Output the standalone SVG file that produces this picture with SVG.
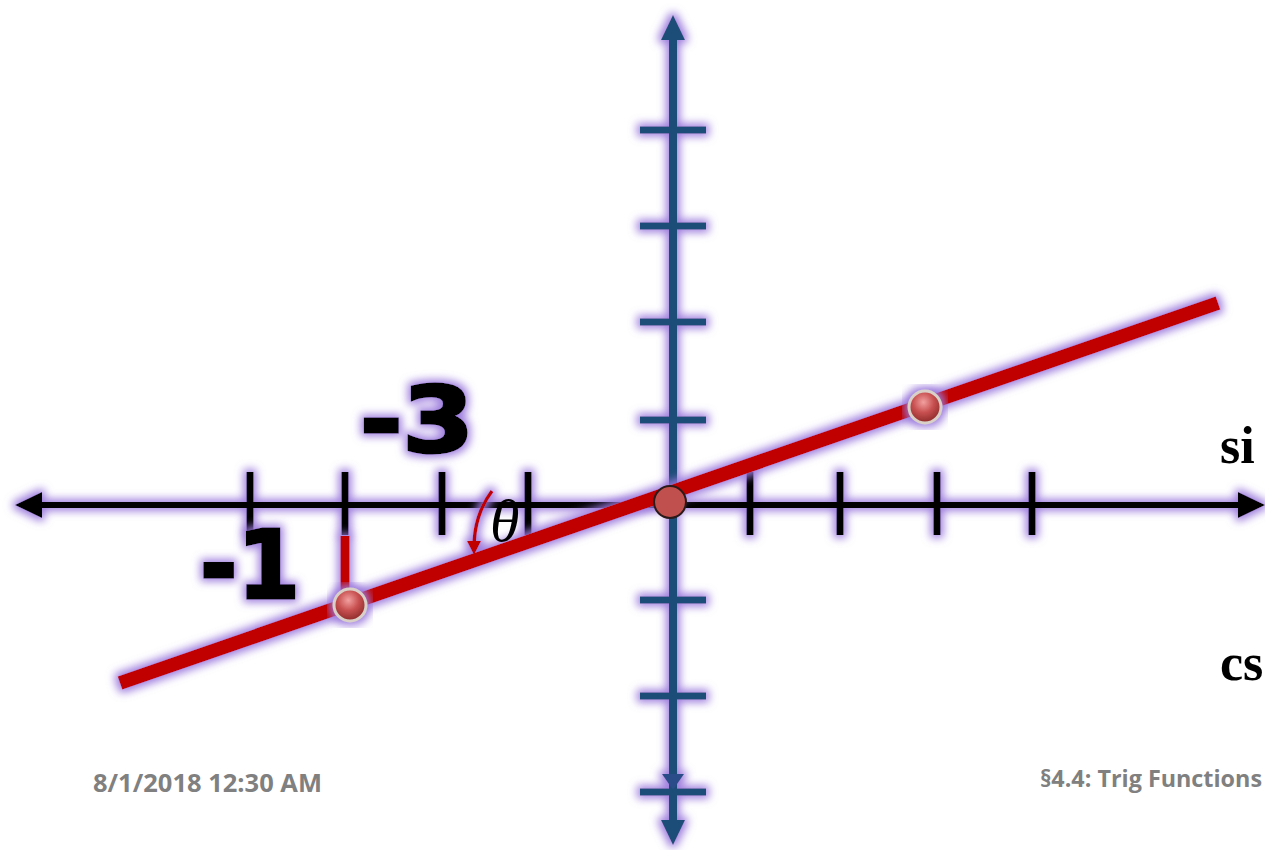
<svg xmlns="http://www.w3.org/2000/svg" width="1265" height="850" viewBox="0 0 1265 850">
<defs>
<filter id="glow" x="-20%" y="-20%" width="140%" height="140%">
<feMorphology in="SourceAlpha" operator="dilate" radius="3" result="d"/>
<feGaussianBlur in="d" stdDeviation="4.5" result="b"/>
<feFlood flood-color="#9a78dc" flood-opacity="0.95"/>
<feComposite in2="b" operator="in" result="g"/>
<feMerge><feMergeNode in="g"/><feMergeNode in="SourceGraphic"/></feMerge>
</filter>
<radialGradient id="ball" cx="45%" cy="35%" r="65%">
<stop offset="0" stop-color="#f2a0a0"/>
<stop offset="0.5" stop-color="#c85050"/>
<stop offset="1" stop-color="#8c2a2a"/>
</radialGradient>
<marker id="redArrow" viewBox="0 0 10 10" refX="5" refY="5" markerWidth="4" markerHeight="4" orient="auto">
<path d="M0,0 L10,5 L0,10 z" fill="#c00000"/>
</marker>
</defs>
<style>
.xax{stroke:#000;stroke-width:6;fill:none}
.xt{stroke:#000;stroke-width:7}
.yax{stroke:#1f4e79;stroke-width:8;fill:none}
.yt{stroke:#1f4e79;stroke-width:7}
.big{font-family:"DejaVu Sans",sans-serif;font-weight:bold;fill:#000;stroke:#000;stroke-width:3}
.foot{font-family:"Open Sans","Liberation Sans",sans-serif;font-weight:bold;fill:#808080}
.side{font-family:"Liberation Serif",serif;font-weight:bold;font-size:52px;fill:#000}
</style>
<g id="x-axis" filter="url(#glow)">
<line class="xax" x1="35" y1="505" x2="1245" y2="505"/>
<path d="M15,505 L42,492 L42,518 z" fill="#000"/>
<path d="M1265,505 L1238,492 L1238,518 z" fill="#000"/>
<g class="xt">
<line x1="250" y1="472" x2="250" y2="535"/>
<line x1="345" y1="472" x2="345" y2="535"/>
<line x1="442" y1="472" x2="442" y2="535"/>
<line x1="528" y1="472" x2="528" y2="535"/>
<line x1="750" y1="472" x2="750" y2="535"/>
<line x1="840" y1="472" x2="840" y2="535"/>
<line x1="937" y1="472" x2="937" y2="535"/>
<line x1="1032" y1="472" x2="1032" y2="535"/>
</g>
</g>
<g id="y-axis" filter="url(#glow)">
<line class="yax" x1="673" y1="35" x2="673" y2="825"/>
<path d="M673,15 L661,40 L685,40 z" fill="#1f4e79"/>
<path d="M673,790 L662,774 L684,774 z" fill="#2a4d8a"/>
<path d="M673,845 L661,820 L685,820 z" fill="#1f4e79"/>
<g class="yt">
<line x1="640" y1="130" x2="706" y2="130"/>
<line x1="640" y1="226" x2="706" y2="226"/>
<line x1="640" y1="322" x2="706" y2="322"/>
<line x1="640" y1="420" x2="706" y2="420"/>
<line x1="640" y1="600" x2="706" y2="600"/>
<line x1="640" y1="696" x2="706" y2="696"/>
<line x1="640" y1="792" x2="706" y2="792"/>
</g>
</g>
<g id="connectors" filter="url(#glow)">
<line x1="120" y1="683" x2="1218" y2="303" stroke="#c00000" stroke-width="14"/>
<line x1="345" y1="536" x2="345" y2="605" stroke="#c00000" stroke-width="9"/>
<path d="M492,491 Q474,515 474,548" fill="none" stroke="#c00000" stroke-width="3.5" marker-end="url(#redArrow)"/>
</g>
<g id="origin"><circle cx="670" cy="502" r="16" fill="#c0504d" stroke="#2a1a1a" stroke-width="2"/></g>
<g id="point-a" filter="url(#glow)"><circle cx="925" cy="407" r="16" fill="url(#ball)" stroke="#d9d0c8" stroke-width="3"/></g>
<g id="point-b" filter="url(#glow)"><circle cx="350" cy="605" r="16" fill="url(#ball)" stroke="#d9d0c8" stroke-width="3"/></g>
<g id="theta"><text x="490" y="541" font-family="Liberation Serif,serif" font-style="italic" font-size="60" fill="#000">θ</text></g>
<g id="label-3" filter="url(#glow)"><text class="big" x="360" y="452" font-size="90" textLength="114" lengthAdjust="spacingAndGlyphs">-3</text></g>
<g id="label-1" filter="url(#glow)"><text class="big" x="200" y="598" font-size="94" textLength="100" lengthAdjust="spacingAndGlyphs">-1</text></g>
<g id="side-labels">
<text class="side" x="1220" y="463">si</text>
<text class="side" x="1220" y="680">cs</text>
</g>
<g id="footer">
<text class="foot" x="93" y="792" font-size="25" textLength="229" lengthAdjust="spacingAndGlyphs">8/1/2018 12:30 AM</text>
<text class="foot" x="1040" y="787" font-size="23" textLength="222" lengthAdjust="spacingAndGlyphs">§4.4: Trig Functions</text>
</g>
</svg>
